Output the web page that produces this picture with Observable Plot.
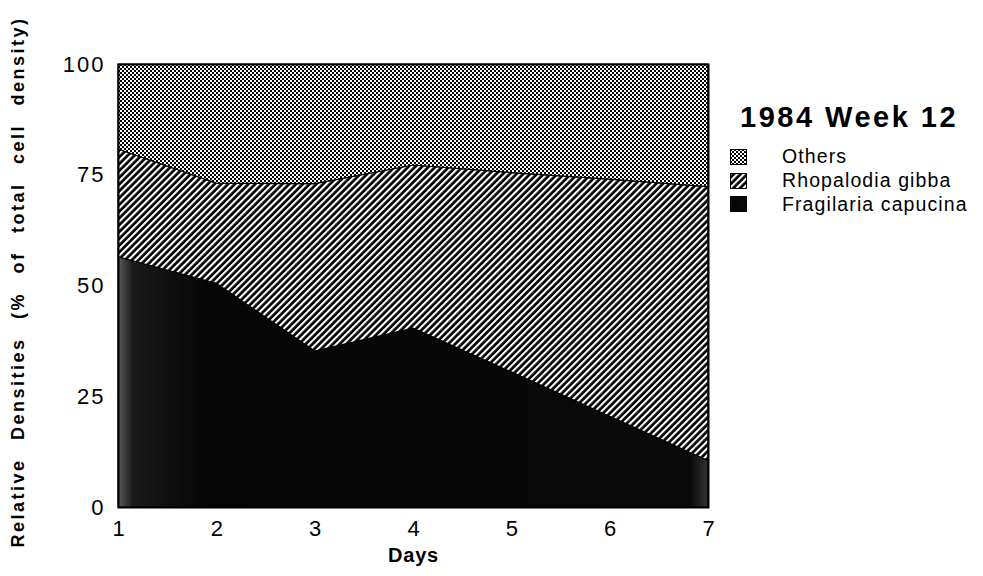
<!DOCTYPE html>
<html>
<head>
<meta charset="utf-8">
<script src="https://cdn.jsdelivr.net/npm/d3@7"></script>
<script src="https://cdn.jsdelivr.net/npm/@observablehq/plot@0.6"></script>
<style>
  html, body { margin: 0; padding: 0; background: #fff; }
  body { width: 983px; height: 576px; overflow: hidden; font-family: "Liberation Sans", Arial, sans-serif; }
  #wrap { position: relative; width: 983px; height: 576px; }
  #legend { position: absolute; left: 730px; top: 100px; color: #000; }
  #legend .title { font-weight: bold; font-size: 29px; letter-spacing: 2.5px; margin-left: 10px; line-height: 34px; white-space: nowrap; }
  #legend .item { display: flex; align-items: center; height: 23.8px; font-size: 19.5px; letter-spacing: 1.1px; white-space: nowrap; }
  #legend .item svg { margin-right: 35px; }
  #legend .items { margin-top: 11px; }
</style>
</head>
<body>
<div id="wrap"></div>
<svg width="0" height="0" style="position:absolute">
  <defs>
    <pattern id="pOthers" patternUnits="userSpaceOnUse" width="4" height="4">
      <rect width="4" height="4" fill="#fff"></rect>
      <rect x="0" y="0" width="2" height="2" fill="#000"></rect>
      <rect x="2" y="2" width="2" height="2" fill="#000"></rect>
    </pattern>
    <pattern id="pRhopa" patternUnits="userSpaceOnUse" width="4.8" height="10" patternTransform="rotate(45)">
      <rect width="4.8" height="10" fill="#000"></rect>
      <rect x="0" y="0" width="2.1" height="10" fill="#fff"></rect>
    </pattern>
    <linearGradient id="pFragi" x1="0" x2="1" y1="0" y2="0">
      <stop offset="0" stop-color="#5a5a5a"></stop>
      <stop offset="0.025" stop-color="#1a1a1a"></stop>
      <stop offset="0.15" stop-color="#050505"></stop>
      <stop offset="0.97" stop-color="#0a0a0a"></stop>
      <stop offset="1" stop-color="#333"></stop>
    </linearGradient>
  </defs>
</svg>
<script>
const days = [1, 2, 3, 4, 5, 6, 7];
const species = ["Fragilaria capucina", "Rhopalodia gibba", "Others"];
const fragilaria = [56.5, 50.5, 35.2, 40.4, 30.5, 20.5, 10.5];
const rhopalodia = [24.3, 22.6, 37.8, 36.8, 45.0, 53.5, 61.8];
const others = [19.2, 26.9, 27.0, 22.8, 24.5, 26.0, 27.7];
const fills = ["url(#pFragi)", "url(#pRhopa)", "url(#pOthers)"];
const yTicks = [0, 25, 50, 75, 100];
const legendOrder = ["Others", "Rhopalodia gibba", "Fragilaria capucina"];
const titleText = "1984 Week 12";
const xLabel = "Days";
const yLabel = "Relative Densities (% of total cell density)";

const seriesValues = [fragilaria, rhopalodia, others];
const data = [];
species.forEach((s, i) => days.forEach((d, j) => data.push({day: d, species: s, value: seriesValues[i][j]})));

const chart = Plot.plot({
  width: 983,
  height: 576,
  marginLeft: 118,
  marginRight: 275,
  marginTop: 64,
  marginBottom: 69,
  style: {fontFamily: "'Liberation Sans', Arial, sans-serif", color: "#000", background: "#fff"},
  x: {domain: [1, 7], ticks: days, tickFormat: d => String(d), label: null},
  y: {domain: [0, 100], ticks: yTicks, label: null},
  color: {domain: species, range: fills},
  marks: [
    Plot.areaY(data, {x: "day", y: "value", fill: "species", order: species, stroke: "#000", strokeWidth: 1.2}),
    Plot.frame({stroke: "#000", strokeWidth: 2}),
    Plot.axisX({ticks: days, tickSize: 0, tickPadding: 13, fontSize: 22, label: null, tickFormat: d => String(d)}),
    Plot.axisY({ticks: yTicks, tickSize: 0, tickPadding: 13, fontSize: 22, label: null}),
    Plot.text([xLabel], {frameAnchor: "bottom", dy: 48, lineAnchor: "middle", fontWeight: "bold", fontSize: 20}),
    Plot.text([yLabel], {frameAnchor: "left", dx: -100, dy: -4, rotate: -90, textAnchor: "middle", lineAnchor: "middle", fontWeight: "bold", fontSize: 18})
  ]
});

const svgSel = d3.select(chart);
svgSel.selectAll("text").filter(function() { return this.textContent === yLabel; })
  .style("letter-spacing", "2.5px").style("word-spacing", "11px");
svgSel.selectAll("text").filter(function() { return this.textContent === xLabel; })
  .style("letter-spacing", "0.8px");
svgSel.selectAll("[aria-label='y-axis tick label'] text").style("letter-spacing", "2px");

const wrap = document.getElementById("wrap");
wrap.appendChild(chart);

const legend = document.createElement("div");
legend.id = "legend";
const t = document.createElement("div");
t.className = "title";
t.textContent = titleText;
legend.appendChild(t);
const items = document.createElement("div");
items.className = "items";
legendOrder.forEach(name => {
  const row = document.createElement("div");
  row.className = "item";
  const i = species.indexOf(name);
  row.innerHTML = `<svg width="17" height="16"><rect width="17" height="16" fill="${fills[i]}"></rect><rect x="0.5" y="0.5" width="16" height="15" fill="none" stroke="#000"></rect></svg><span>${name}</span>`;
  items.appendChild(row);
});
legend.appendChild(items);
wrap.appendChild(legend);
</script>
</body>
</html>
